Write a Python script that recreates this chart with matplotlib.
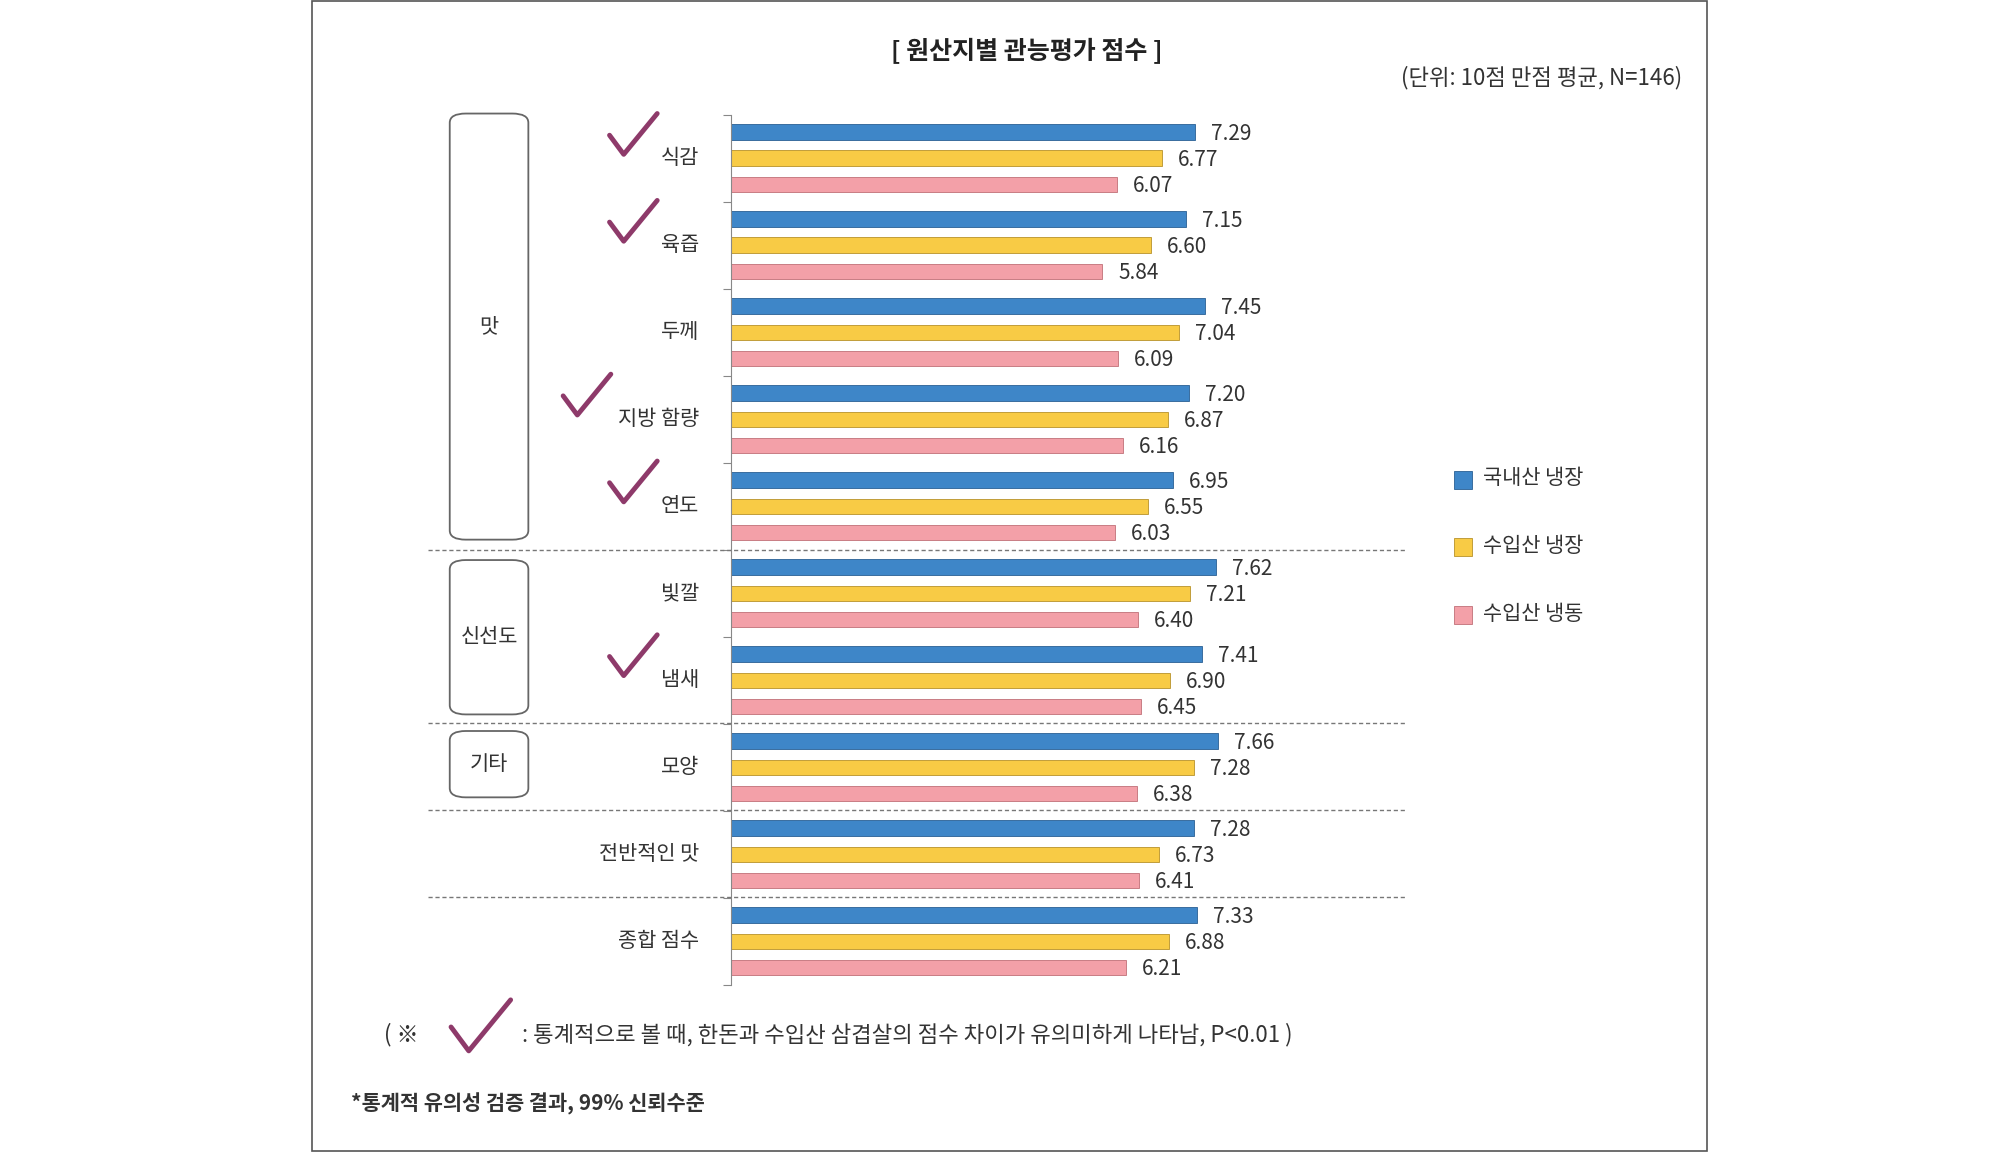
import matplotlib
matplotlib.use("Agg")
import matplotlib.pyplot as plt
from matplotlib.patches import FancyBboxPatch, Rectangle
from matplotlib.lines import Line2D

plt.rcParams['font.family'] = ['Noto Sans CJK KR', 'Noto Sans CJK JP', 'Noto Sans CJK SC', 'DejaVu Sans']

categories = ['식감', '육즙', '두께', '지방 함량', '연도', '빛깔', '냄새', '모양', '전반적인 맛', '종합 점수']
domestic_chilled = [7.29, 7.15, 7.45, 7.20, 6.95, 7.62, 7.41, 7.66, 7.28, 7.33]
import_chilled = [6.77, 6.60, 7.04, 6.87, 6.55, 7.21, 6.90, 7.28, 6.73, 6.88]
import_frozen = [6.07, 5.84, 6.09, 6.16, 6.03, 6.40, 6.45, 6.38, 6.41, 6.21]
series_names = ['국내산 냉장', '수입산 냉장', '수입산 냉동']
checked = ['식감', '육즙', '지방 함량', '연도', '냄새']
colors = ['#3E86C8', '#F8CB45', '#F3A0A8']
edges = ['#2A5F94', '#B8922A', '#C07078']

W, H = 1552.0, 903.0
fx = lambda x: x / W
fy = lambda y: 1 - y / H

fig = plt.figure(figsize=(20, 11.52), dpi=100)
ax = fig.add_axes([fx(567), fy(772), fx(1061) - fx(567), fy(90) - fy(772)])
series = [domestic_chilled, import_chilled, import_frozen]
for k, vals in enumerate(series):
    ys = [i + (k - 1) * 0.3 for i in range(len(categories))]
    ax.barh(ys, vals, height=0.18, color=colors[k], edgecolor=edges[k], linewidth=0.6)
    for y, v in zip(ys, vals):
        ax.text(v + 0.25, y + 0.02, f'{v:.2f}', va='center', ha='left', fontsize=15, color='#333333')
ax.set_xlim(0, 10)
ax.set_ylim(len(categories) - 0.5, -0.5)
for s in ['top', 'right', 'bottom']:
    ax.spines[s].set_visible(False)
ax.spines['left'].set_color('#888888')
ax.set_xticks([])
ax.set_yticks([i - 0.5 for i in range(len(categories) + 1)])
ax.set_yticklabels([])
ax.tick_params(axis='y', length=6, color='#888888', direction='out')
for i, c in enumerate(categories):
    ax.text(-0.5, i, c, ha='right', va='center', fontsize=15, color='#333333')

# frame
fig.add_artist(Rectangle((fx(242), fy(902)), fx(1325) - fx(242), fy(1) - fy(902),
                         fill=False, edgecolor='#555555', linewidth=1.2, transform=fig.transFigure))

# group boxes
for (y0, y1, lab) in [(89, 423, '맛'), (439, 560, '신선도'), (573, 625, '기타')]:
    fig.add_artist(FancyBboxPatch((fx(349), fy(y1)), fx(410) - fx(349), fy(y0) - fy(y1),
                                  boxstyle='round,pad=0,rounding_size=0.008', fill=False,
                                  edgecolor='#666666', linewidth=1.3, transform=fig.transFigure))
    fig.text(fx(379.5), fy((y0 + y1) / 2), lab, ha='center', va='center', fontsize=15, color='#333333')

for y in [431, 567, 635, 703]:
    fig.add_artist(Line2D([fx(332), fx(1092)], [fy(y), fy(y)], color='#777777', linestyle=(0, (3, 2)),
                          linewidth=1, transform=fig.transFigure))

# checkmarks
def check(x, y, s=1.0):
    xs = [x, x + 11 * s, x + 37 * s]
    ys = [y, y + 15 * s, y - 17 * s]
    fig.add_artist(Line2D([fx(v) for v in xs], [fy(v) for v in ys], color='#8E3A6A',
                          linewidth=3.5, solid_capstyle='round', transform=fig.transFigure))

for i, c in enumerate(categories):
    if c in checked:
        yc = 124 + i * 68.1
        check(437 if ' ' in c else 473, yc - 18)

# legend
for k, (nm, col) in enumerate(zip(series_names, colors)):
    y = 375 + k * 53
    fig.add_artist(Rectangle((fx(1128), fy(y + 8)), fx(14), fy(0) - fy(14), facecolor=col,
                             edgecolor=edges[k], linewidth=0.6, transform=fig.transFigure))
    fig.text(fx(1151), fy(y), nm, ha='left', va='center', fontsize=15, color='#333333')

fig.text(fx(797), fy(40), '[ 원산지별 관능평가 점수 ]', ha='center', va='center', fontsize=18,
         fontweight='bold', color='#222222')
fig.text(fx(1305), fy(61), '(단위: 10점 만점 평균, N=146)', ha='right', va='center', fontsize=16, color='#333333')

fig.text(fx(298), fy(811), '( ※', ha='left', va='center', fontsize=16, color='#333333')
check(350, 805, 1.25)
fig.text(fx(405), fy(811), ': 통계적으로 볼 때, 한돈과 수입산 삼겹살의 점수 차이가 유의미하게 나타남, P<0.01 )',
         ha='left', va='center', fontsize=16, color='#333333')
fig.text(fx(272), fy(865), '*통계적 유의성 검증 결과, 99% 신뢰수준', ha='left', va='center', fontsize=15,
         fontweight='bold', color='#333333')

fig.savefig('out.png', dpi=100, facecolor='white')
